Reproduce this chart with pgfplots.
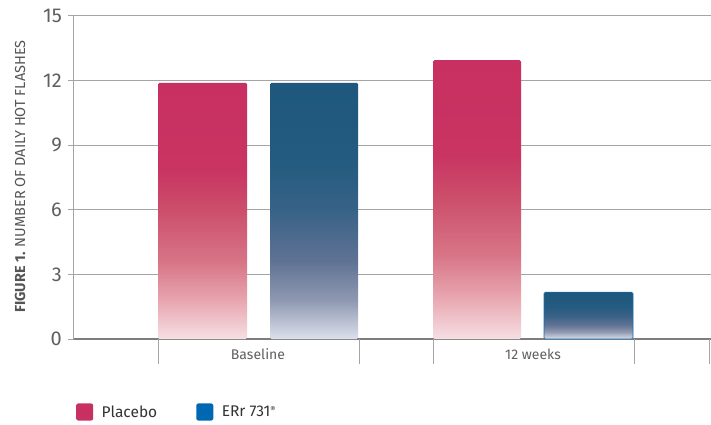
\documentclass[border=0pt]{standalone}
\usepackage{pgfplots}
\pgfplotsset{compat=1.18}
\usepackage{fontspec}
\setmainfont{Fira Sans}
\definecolor{txt}{RGB}{85,85,85}
\definecolor{txtl}{RGB}{95,95,95}
\definecolor{gridc}{RGB}{165,165,165}
\definecolor{axc}{RGB}{125,125,125}
\definecolor{plcL}{RGB}{201,48,98}
\definecolor{errL}{RGB}{0,104,178}
\definecolor{errE}{RGB}{20,110,175}
\pgfdeclareverticalshading{placeboshade}{100bp}{%
rgb(0bp)=(0.965,0.875,0.895); rgb(25bp)=(0.965,0.875,0.895);
rgb(32.5bp)=(0.91,0.65,0.69); rgb(40bp)=(0.845,0.46,0.53);
rgb(50bp)=(0.80,0.31,0.42); rgb(58bp)=(0.787,0.205,0.385);
rgb(75bp)=(0.784,0.188,0.38); rgb(100bp)=(0.784,0.188,0.38)}
\pgfdeclareverticalshading{errshade}{100bp}{%
rgb(0bp)=(0.87,0.88,0.925); rgb(25bp)=(0.87,0.88,0.925);
rgb(32.5bp)=(0.56,0.60,0.70); rgb(40bp)=(0.38,0.45,0.58);
rgb(50bp)=(0.22,0.385,0.53); rgb(60bp)=(0.14,0.355,0.50);
rgb(75bp)=(0.118,0.345,0.486); rgb(100bp)=(0.118,0.345,0.486)}
\begin{document}
\begin{tikzpicture}
\useasboundingbox (-74bp,-86bp) rectangle (637bp,339bp);
\begin{axis}[
  scale only axis, width=637bp, height=323bp,
  xmin=74, xmax=711, ymin=0, ymax=15,
  clip=false,
  axis x line*=bottom, axis y line*=left,
  x axis line style={draw=axc, line width=1.8bp},
  y axis line style={draw=gridc, line width=1bp},
  ytick={0,3,6,9,12,15},
  yticklabels={0,3,6,9,12,15},
  ymajorgrids, grid style={draw=gridc, line width=1bp},
  major tick length=6bp, tick align=outside,
  y tick style={draw=gridc, line width=1bp},
  yticklabel style={font=\fontsize{20bp}{23bp}\selectfont, text=txtl, inner sep=0pt, xshift=-6bp},
  xtick={258,533}, xticklabels={Baseline,12 weeks},
  x tick style={draw=none},
  xticklabel style={font=\fontsize{14bp}{16bp}\selectfont, text=txtl, anchor=center, yshift=-9bp},
  extra x ticks={158,359,433,634,709},
  extra x tick labels={},
  extra x tick style={major tick length=25bp, x tick style={draw=gridc, line width=1bp}, grid=none},
  legend columns=2,
  legend style={at={(axis cs:76,-3.39)}, anchor=west, draw=none, fill=none,
    inner sep=0pt, font=\fontsize{15.5bp}{18bp}\selectfont, text=black!80,
    nodes={inner sep=0pt, text=black!80},
    /tikz/every odd column/.append style={column sep=8.5bp},
    /tikz/every even column/.append style={column sep=39bp}},
  legend image code/.code={\fill[rounded corners=2bp] (0bp,-8.5bp) rectangle (17bp,8.5bp);},
]
\addplot[ybar, bar width=89, bar shift=0pt, draw=none, shade, shading=placeboshade, rounded corners=1.5bp, forget plot] coordinates {(202.5,11.9)};
\addplot[ybar, bar width=88, bar shift=0pt, draw=none, shade, shading=errshade, rounded corners=1.5bp, forget plot] coordinates {(314,11.9)};
\addplot[ybar, bar width=88, bar shift=0pt, draw=none, shade, shading=placeboshade, rounded corners=1.5bp, forget plot] coordinates {(477,12.95)};
\addplot[ybar, bar width=89, bar shift=0pt, draw=errE, line width=0.6bp, shade, shading=errshade, rounded corners=1.5bp, forget plot] coordinates {(588.5,2.18)};
\addlegendimage{fill=plcL, draw=none}
\addlegendentry{Placebo}
\addlegendimage{fill=errL, draw=none}
\addlegendentry{ERr 731\raisebox{4.5bp}{\fontsize{8bp}{8bp}\selectfont ®}}
\end{axis}
\node[rotate=90, font=\fontsize{14.5bp}{16bp}\selectfont, text=txt] at (-54bp,162.5bp) {{\bfseries FIGURE 1.} NUMBER OF DAILY HOT FLASHES};
\end{tikzpicture}
\end{document}
